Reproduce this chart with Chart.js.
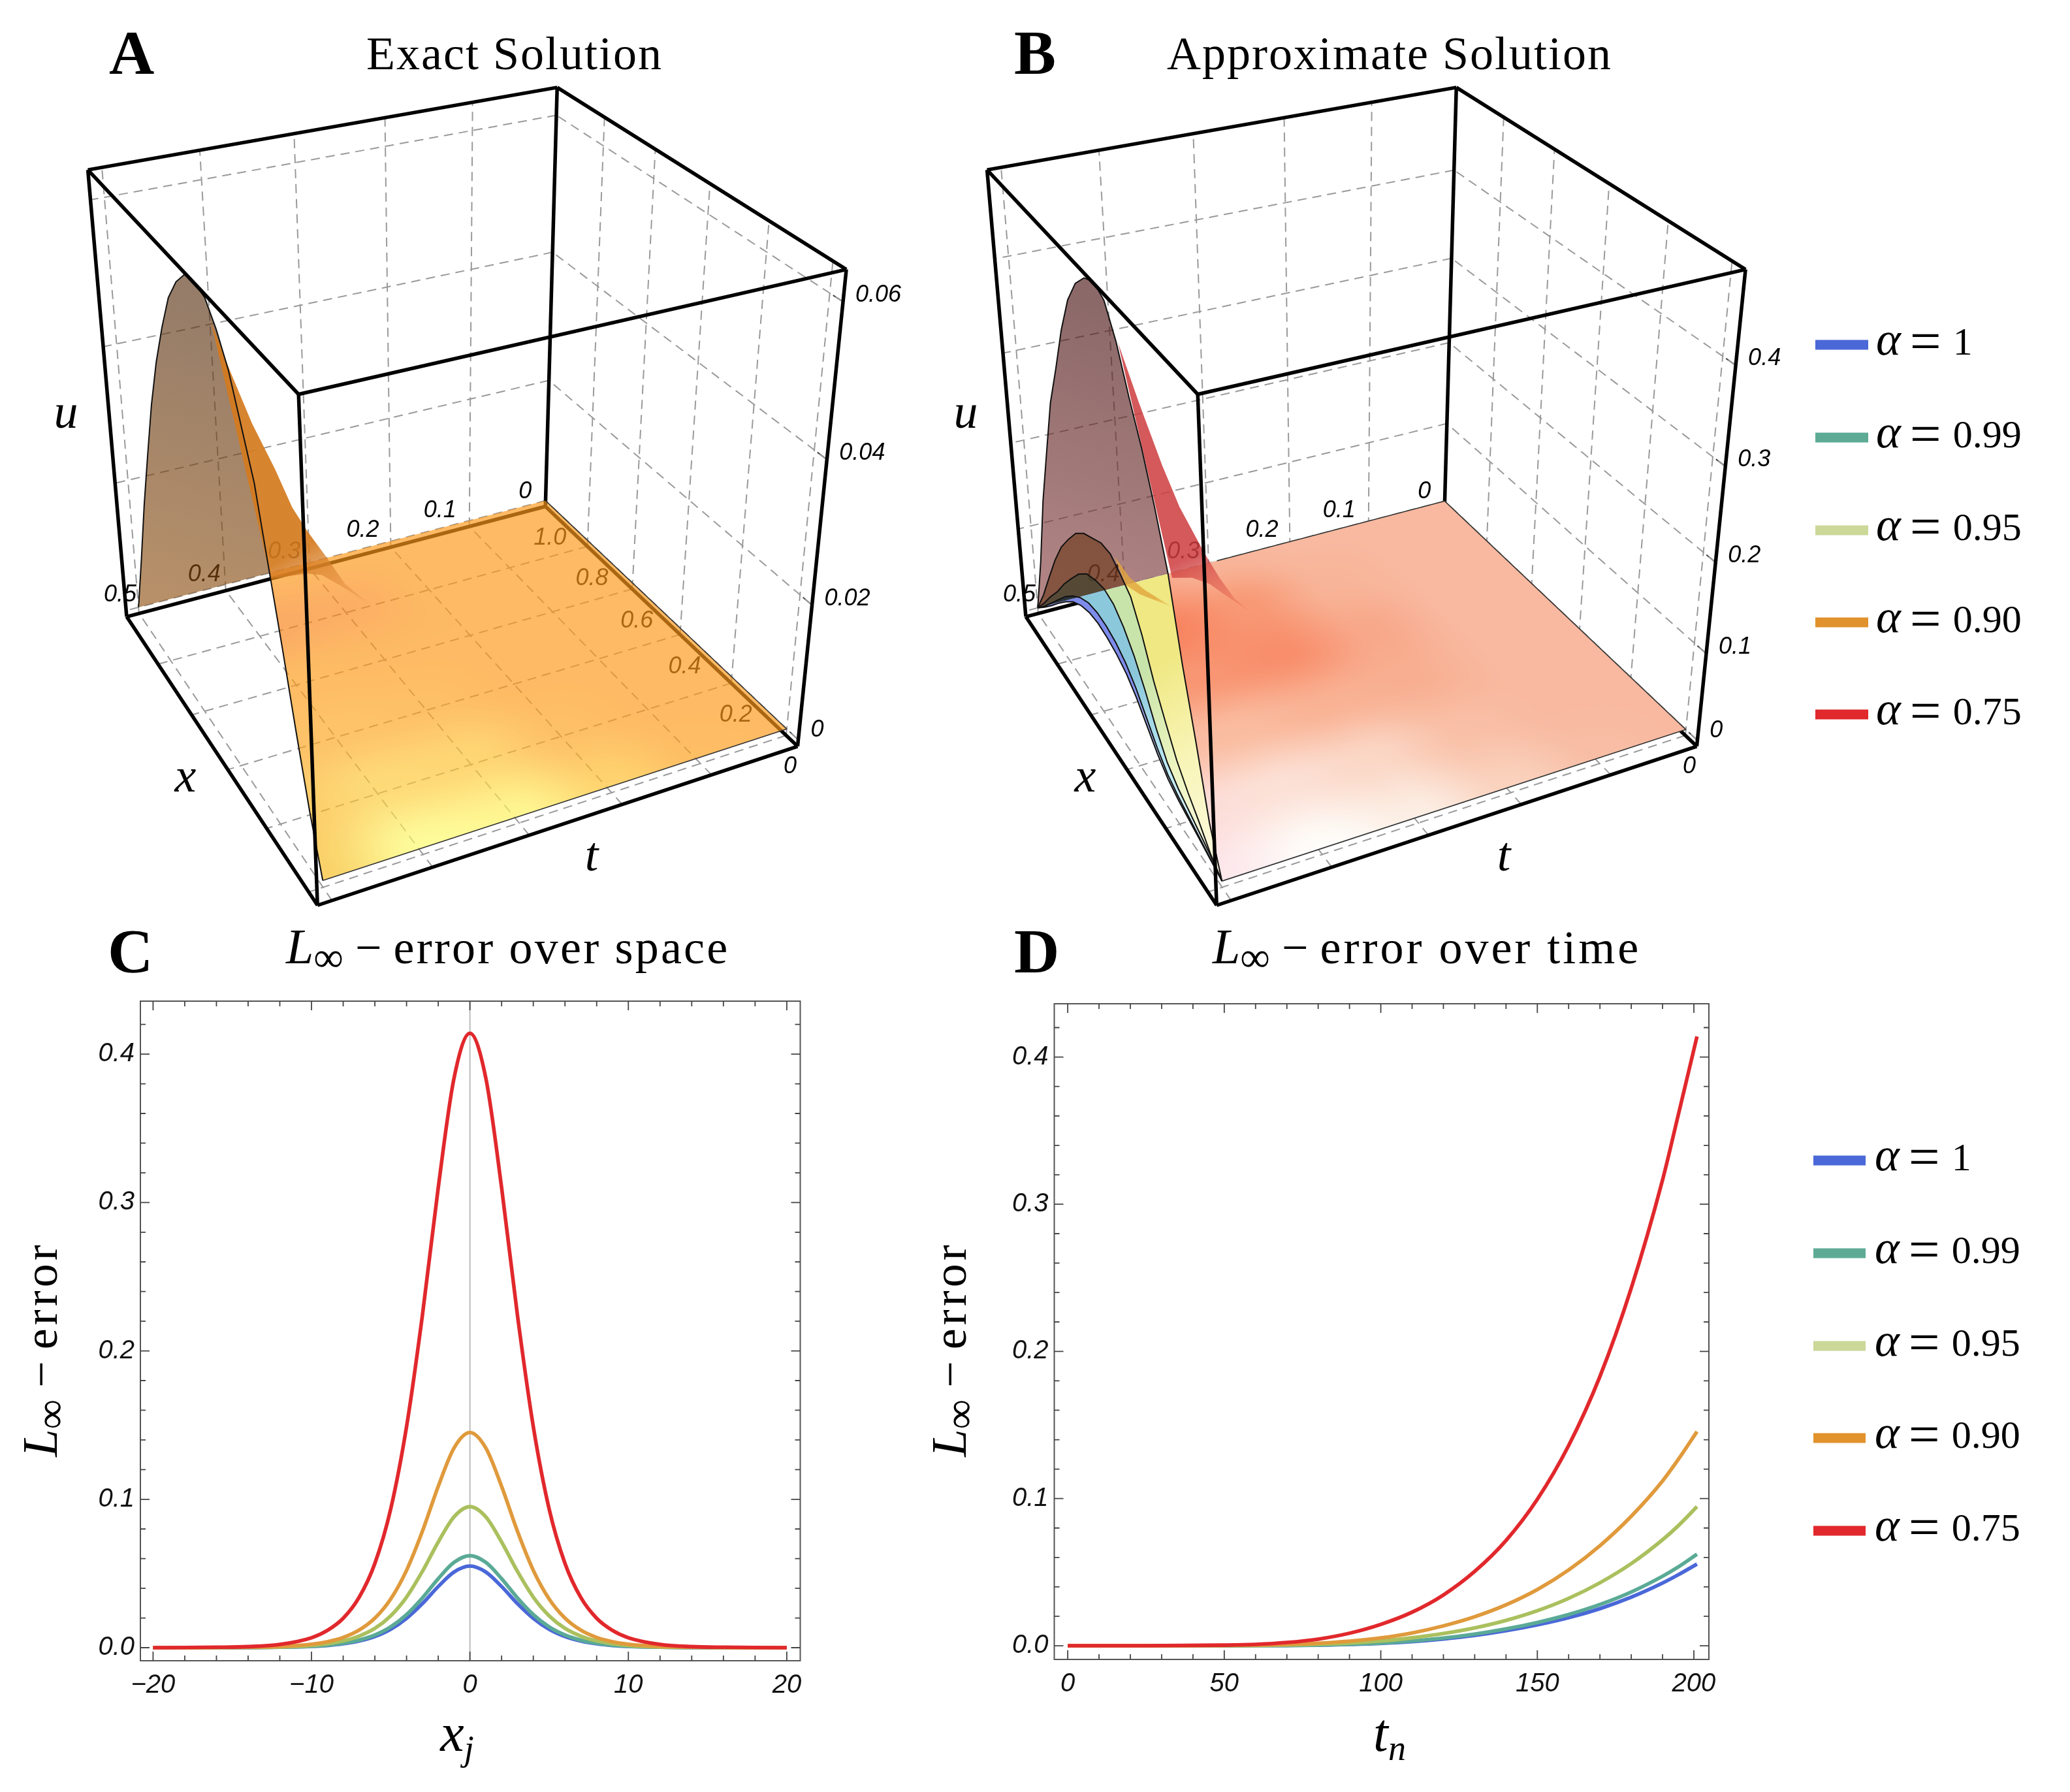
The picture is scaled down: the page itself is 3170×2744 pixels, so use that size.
<!doctype html><html><head><meta charset="utf-8">
<style>html,body{margin:0;background:#fff;width:3170px;height:2744px;overflow:hidden}canvas{position:absolute}</style>
<script src="https://cdn.jsdelivr.net/npm/chart.js@4"></script></head><body>
<canvas id="ca" width="1400" height="1420" style="left:0;top:0"></canvas>
<canvas id="cb" width="1793" height="1420" style="left:1377px;top:0"></canvas>
<canvas id="cc" width="1360" height="1344" style="left:0;top:1400px"></canvas>
<canvas id="cd" width="1770" height="1344" style="left:1400px;top:1400px"></canvas>
<script>
const SERIF="'Liberation Serif'",SANS="'Liberation Sans'";
// ---- panel C: error over space
const spaceX=[-20,-18,-16,-14,-12,-10,-9,-8,-7,-6,-5,-4,-3,-2,-1,0,1,2,3,4,5,6,7,8,9,10,12,14,16,18,20];
const spaceBlue=[0,0,0,.0001,.0003,.0009,.0015,.0026,.0045,.0075,.0124,.0198,.0297,.0412,.0510,.055,.0510,.0412,.0297,.0198,.0124,.0075,.0045,.0026,.0015,.0009,.0003,.0001,0,0,0];
const spaceTeal=[0,0,0,.0001,.0003,.0010,.0017,.0030,.0051,.0085,.0140,.0223,.0335,.0465,.0575,.062,.0575,.0465,.0335,.0223,.0140,.0085,.0051,.0030,.0017,.0010,.0003,.0001,0,0,0];
const spaceGreen=[0,0,.0001,.0002,.0005,.0015,.0027,.0046,.0078,.0130,.0215,.0341,.0514,.0712,.0882,.095,.0882,.0712,.0514,.0341,.0215,.0130,.0078,.0046,.0027,.0015,.0005,.0002,.0001,0,0];
const spaceOrange=[0,0,.0001,.0003,.0008,.0023,.0040,.0069,.0118,.0199,.0328,.0521,.0784,.1087,.1346,.145,.1346,.1087,.0784,.0521,.0328,.0199,.0118,.0069,.0040,.0023,.0008,.0003,.0001,0,0];
const spaceRed=[0,.0001,.0003,.0007,.0022,.0067,.0116,.0198,.0338,.0568,.0935,.149,.224,.310,.384,.414,.384,.310,.224,.149,.0935,.0568,.0338,.0198,.0116,.0067,.0022,.0007,.0003,.0001,0];
// ---- panel D: error over time
const timeN=[0,25,50,60,70,80,90,100,110,120,130,140,150,160,170,180,190,195,201];
const timeBlue=[0,0,0,.0001,.0002,.0004,.0009,.0016,.0028,.0046,.007,.0102,.0142,.0191,.0252,.033,.0426,.0482,.0555];
const timeTeal=[0,0,0,.0001,.0002,.0005,.001,.0018,.0032,.0052,.0079,.0114,.0158,.0212,.028,.0365,.0472,.0535,.0622];
const timeGreen=[0,0,.0001,.0002,.0005,.001,.0018,.0032,.0054,.0083,.0121,.0172,.0238,.0322,.0428,.0558,.072,.0815,.0945];
const timeOrange=[0,0,.0002,.0004,.0009,.0017,.0031,.0053,.0087,.0135,.0197,.0278,.0382,.0515,.068,.088,.112,.1265,.1455];
const timeRed=[0,0,.0004,.0009,.0022,.0045,.0085,.0145,.0228,.0345,.0505,.0715,.0995,.136,.183,.243,.3165,.3605,.414];
// ---- panels A, B: surfaces
const tTicks=[0,.1,.2,.3,.4,.5], xTicks=[0,.2,.4,.6,.8,1];
const uTicksA=[0,.02,.04,.06], uTicksB=[0,.1,.2,.3,.4];
const humpX=[0,.05,.1,.15,.2,.25,.3,.35,.4,.45,.5,.55,.6,.65,.7,.75,.8,.85,.9,.95,1];
const humpExact=[0,.0075,.0165,.026,.035,.044,.0495,.055,.0585,.061,.0615,.0612,.059,.0557,.0505,.0445,.0372,.0285,.0195,.0095,0];
const humpRed=[0,.047,.118,.184,.262,.314,.359,.396,.437,.465,.4726,.466,.451,.425,.385,.335,.288,.222,.155,.071,0];
const humpOrange=[0,.012,.030,.046,.065,.092,.120,.155,.182,.192,.2006,.199,.191,.183,.170,.150,.128,.099,.065,.030,0];
const humpGreen=[0,.010,.018,.026,.034,.046,.068,.095,.118,.135,.146,.149,.145,.138,.124,.105,.085,.062,.042,.020,0];
const humpTeal=[0,.006,.012,.018,.024,.032,.046,.064,.082,.095,.103,.107,.108,.105,.097,.085,.070,.052,.034,.016,0];
const humpBlue=[0,.005,.010,.015,.020,.027,.039,.055,.071,.083,.090,.094,.096,.094,.088,.078,.064,.048,.031,.015,0];
const ridgeATop=[[.483,.522,.0557],[.464,.546,.0485],[.438,.579,.0394],[.410,.616,.0311],[.388,.645,.0239],[.368,.670,.0189],[.339,.707,.0124],[.313,.741,.0063],[.276,.788,0]];
const ridgeALow=[[.351,.977,0],[.311,.960,0],[.298,.940,0],[.286,.866,0],[.276,.788,0]];
const ridgeBTop=[[.474,.537,.4016],[.451,.569,.3290],[.424,.606,.2486],[.402,.637,.1899],[.368,.685,.1161],[.346,.715,.0724],[.323,.747,.0319],[.299,.781,0]];
const ridgeBLow=[[.348,.980,0],[.328,.960,0],[.316,.919,0],[.310,.866,0],[.299,.781,0]];
const ridgeOTop=[[.492,.522,.1894],[.464,.602,.1368],[.433,.691,.0892],[.370,.872,0]];
const ridgeOLow=[[.399,1,0],[.392,.950,0],[.370,.872,0]];
const BOX={BK:[835,774],R:[1221,1144],L:[194,945],F:[487,1386],TBK:[854,134],TR:[1296,413],TL:[134,261],TF:[457,602]};
function makeCam(c){const pts=[[0,1,0,c.BK],[0,0,0,c.R],[1,1,0,c.L],[1,0,0,c.F],[0,1,1,c.TBK],[0,0,1,c.TR],[1,1,1,c.TL],[1,0,1,c.TF]];
 const A=Array.from({length:11},()=>Array(12).fill(0));
 const add=(r,y)=>{for(let i=0;i<11;i++){for(let j=0;j<11;j++)A[i][j]+=r[i]*r[j];A[i][11]+=r[i]*y;}};
 pts.forEach(([a,b,g,q])=>{const u=q[0]/1000,v=q[1]/1000;add([a,b,g,1,0,0,0,0,-u*a,-u*b,-u*g],u);add([0,0,0,0,a,b,g,1,-v*a,-v*b,-v*g],v);});
 for(let i=0;i<11;i++){let m=i;for(let k=i;k<11;k++)if(Math.abs(A[k][i])>Math.abs(A[m][i]))m=k;[A[i],A[m]]=[A[m],A[i]];
  for(let k=0;k<11;k++)if(k!==i){const f=A[k][i]/A[i][i];for(let j=i;j<12;j++)A[k][j]-=f*A[i][j];}}
 return A.map((r,i)=>r[11]/r[i]);}
const CAM=makeCam(BOX);
function proj3(a,b,g){const p=CAM,w=p[8]*a+p[9]*b+p[10]*g+1;return{x:(p[0]*a+p[1]*b+p[2]*g+p[3])/w*1000,y:(p[4]*a+p[5]*b+p[6]*g+p[7])/w*1000};}
function mkPanel(r){const P={r};P.a=t=>(t-r.tLo)/(r.tHi-r.tLo);P.b=x=>(x-r.xLo)/(r.xHi-r.xLo);P.c=u=>(u-r.uLo)/(r.uHi-r.uLo);P.p=(t,x,u)=>proj3(P.a(t),P.b(x),P.c(u));return P;}
const PA=mkPanel({tLo:0,tHi:.514,xLo:-.04,xHi:1,uLo:-.001,uHi:.0639});
const PB=mkPanel({tLo:0,tHi:.514,xLo:-.04,xHi:1,uLo:-.007,uHi:.49});
const floorColA=[[[254,186,100],[254,186,100],[254,186,100],[254,186,100],[254,186,100],[254,186,100]],
[[254,190,100],[254,186,100],[254,186,100],[254,186,100],[254,186,100],[254,186,100]],
[[254,212,112],[254,192,103],[254,186,100],[254,186,100],[254,186,100],[254,186,100]],
[[254,246,145],[254,214,116],[254,192,103],[254,186,100],[252,175,100],[254,186,100]],
[[254,252,155],[254,218,120],[254,195,105],[254,188,100],[250,170,100],[254,185,100]],
[[250,210,105],[252,203,104],[254,192,103],[254,188,100],[252,180,100],[254,180,100]]];
const floorColB=[[[248,185,160],[248,185,160],[248,185,160],[248,185,160],[248,185,160],[248,185,160]],
[[248,190,165],[248,185,160],[248,185,160],[248,185,160],[248,185,160],[248,185,160]],
[[250,210,190],[249,192,167],[248,175,145],[248,168,138],[248,180,152],[248,185,160]],
[[252,238,228],[251,215,198],[249,178,148],[248,142,107],[248,152,116],[248,180,152]],
[[254,253,250],[252,225,215],[250,188,160],[248,150,115],[248,130,95],[248,165,135]],
[[253,232,236],[252,220,218],[250,192,172],[248,165,135],[248,150,115],[245,165,135]]];
function colorAt(tb,t,x){const u=Math.min(4.999,Math.max(0,t/.1)),v=Math.min(4.999,Math.max(0,x/.2));const i=u|0,j=v|0;let fu=u-i,fv=v-j;fu=fu*fu*(3-2*fu);fv=fv*fv*(3-2*fv);
 const o=[0,0,0];for(let k=0;k<3;k++)o[k]=(tb[i][j][k]*(1-fu)+tb[i+1][j][k]*fu)*(1-fv)+(tb[i][j+1][k]*(1-fu)+tb[i+1][j+1][k]*fu)*fv;return o;}
function floorImage(P,tb,alpha){const r=P.r,g0=P.c(0),p=CAM;
 const H=[[p[0],p[1],p[2]*g0+p[3]],[p[4],p[5],p[6]*g0+p[7]],[p[8],p[9],p[10]*g0+1]];
 const [a,b,c]=H[0],[d,e,ff]=H[1],[g,h,k]=H[2];
 const I=[[e*k-ff*h,c*h-b*k,b*ff-c*e],[ff*g-d*k,a*k-c*g,c*d-a*ff],[d*h-e*g,b*g-a*h,a*e-b*d]];
 const W=1400,Ht=1420,cv=document.createElement('canvas');cv.width=W;cv.height=Ht;const cx=cv.getContext('2d'),im=cx.createImageData(W,Ht);
 for(let y=700;y<1420;y++)for(let xx=150;xx<1300;xx++){const u=xx/1000,v=y/1000;const A=I[0][0]*u+I[0][1]*v+I[0][2],B=I[1][0]*u+I[1][1]*v+I[1][2],C=I[2][0]*u+I[2][1]*v+I[2][2];
  const t=A/C*(r.tHi-r.tLo)+r.tLo,xv=B/C*(r.xHi-r.xLo)+r.xLo;const col=colorAt(tb,t,xv);const i=(y*W+xx)*4;
  for(let q=0;q<3;q++)im.data[i+q]=Math.max(0,Math.min(255,(col[q]-255*(1-alpha))/alpha));im.data[i+3]=255;}
 cx.putImageData(im,0,0);return cv;}
function poly(ctx,pts){ctx.beginPath();pts.forEach((q,i)=>i?ctx.lineTo(q[0],q[1]):ctx.moveTo(q[0],q[1]));ctx.closePath();}
function seg(ctx,x,y,parts,align){let w=0;parts.forEach(p=>{ctx.font=p[1];ctx.letterSpacing=(p[3]||0)+'px';w+=ctx.measureText(p[0]).width;});let s=align==='center'?x-w/2:x;ctx.textAlign='left';ctx.textBaseline='alphabetic';
 parts.forEach(p=>{ctx.font=p[1];ctx.letterSpacing=(p[3]||0)+'px';ctx.fillText(p[0],s,y+(p[2]||0));s+=ctx.measureText(p[0]).width;});ctx.letterSpacing='0px';}
const lineCols=['#4a68d8','#5aaa96','#aac05e','#e09a3c','#e1282c'];
const legCols=['#4a68d8','#5dab95','#cbd898','#e1922c','#e1282c'];
const legVals=['1','0.99','0.95','0.90','0.75'];
function legend(ctx,x0,x1,xt,ys){ys.forEach((y,i)=>{ctx.fillStyle=legCols[i];ctx.fillRect(x0,y-7.5,x1-x0,15);ctx.fillStyle='#000';
 seg(ctx,xt,y+15,[['α','italic 72px '+SERIF],[' ','56px '+SERIF],['=','85px '+SERIF,8],[' ','72px '+SERIF],[legVals[i],'60px '+SERIF]]);});}
const tLabelDx=[-6,-20,-18,-14,-8,-4],tLabelDy=[8,6,4,4,6,2];

function build3D(id,P,uT,isB){
 const r=P.r,T=r.tHi,X1=r.xHi,X0=r.xLo,U0=r.uLo,U1=r.uHi,ds=[];
 const seg3=(A,B,o)=>ds.push(Object.assign({data:[P.p(...A),P.p(...B)],showLine:true,pointRadius:0,fill:false},o));
 const gr={borderColor:'#9a9a9a',borderWidth:2,borderDash:[14,9],order:10};
 tTicks.forEach(t=>{seg3([t,X1,U0],[t,X1,U1],gr);seg3([t,X0,U0],[t,X1,U0],gr);});
 xTicks.forEach(x=>{seg3([0,x,U0],[0,x,U1],gr);seg3([0,x,U0],[T,x,U0],gr);});
 uT.forEach(u=>{seg3([0,X1,u],[T,X1,u],gr);seg3([0,X0,u],[0,X1,u],gr);});
 uT.forEach(u=>seg3([0,X0,u],[0,X0+.03,u],{borderColor:'#444',borderWidth:2,order:10}));
 const ed=(o)=>({borderColor:'#000',borderWidth:5.5,order:o});
 const c=[[0,X1,U0],[0,X0,U0],[T,X1,U0],[T,X0,U0],[0,X1,U1],[0,X0,U1],[T,X1,U1],[T,X0,U1]];
 [[0,1],[0,2],[0,4]].forEach(e=>seg3(c[e[0]],c[e[1]],ed(9)));
 [[1,3],[2,3],[1,5],[2,6],[3,7],[4,5],[4,6],[5,7],[6,7]].forEach(e=>seg3(c[e[0]],c[e[1]],ed(1)));
 const layers=isB?[humpRed,humpOrange,humpGreen,humpTeal,humpBlue]:[humpExact];
 const outline=h=>humpX.map((x,i)=>P.p(.5,x,h[i]));
 layers.forEach(h=>ds.push({data:outline(h),showLine:true,pointRadius:0,borderColor:'#111',borderWidth:2,order:2}));
 const rim=[[[0,0,0],[0,1,0]],[[0,0,0],[.5,0,0]]];if(isB)rim.push([[0,1,0],[.29,1,0]]);
 rim.forEach(e=>seg3(e[0],e[1],{borderColor:'#333',borderWidth:1.6,order:2}));
 const plug={id:'surf',beforeDraw(ch){ch.$d=false;},beforeDatasetDraw(ch,args){if(args.meta.order>2||ch.$d)return;ch.$d=true;const ctx=ch.ctx;
   const px=q=>[ch.scales.x.getPixelForValue(q.x),ch.scales.y.getPixelForValue(q.y)],PP=(t,x,u)=>px(P.p(t,x,u));
   ctx.save();ctx.fillStyle='#000';const lf='italic 36px '+SANS;ctx.font=lf;ctx.textAlign='center';ctx.textBaseline='middle';
   tTicks.forEach((t,i)=>{const q=PP(t,X1,U0);ctx.fillText(t===0?'0':String(t),q[0]-25+tLabelDx[i],q[1]-30+tLabelDy[i]);});
   xTicks.forEach(x=>{const q=PP(0,x,U0);ctx.fillText(x===0?'0':x.toFixed(1),q[0]+(x===0?6:7),q[1]+(x===0?48:49));});
   ctx.textAlign='left';uT.forEach(u=>{const q=PP(0,X0,u);ctx.fillText(u===0?'0':String(u),q[0]+19,q[1]-(u===0?15:10));});
   const bk=PP(0,1,0),lf0=PP(.5,1,0),rr=PP(0,0,0),ff=PP(.5,0,0);
   const face=[lf0,bk,PP(0,1,U1),PP(.5,1,U1)];
   const outPts=h=>humpX.map((x,i)=>PP(.5,x,h[i]));
   const side=q=>((bk[0]-lf0[0])*(q[1]-lf0[1])-(bk[1]-lf0[1])*(q[0]-lf0[0]));
   const grad=(o,stops)=>{const g=ctx.createLinearGradient(o[0][0],o[0][1],o[1][0],o[1][1]);stops.forEach(s=>g.addColorStop(s[0],s[1]));return g;};
   const humpCols=isB?[['#884040','#491111'],['#6c3919','#6c3919'],['#394330','#394330'],['#10263b','#10263b'],['#101350','#101350']]:[['#905111','#593111']];
   layers.forEach((h,i)=>{ctx.save();poly(ctx,face);ctx.clip();poly(ctx,outPts(h));ctx.globalAlpha=.63;const top=h.indexOf(Math.max(...h));ctx.fillStyle=grad([lf0,PP(.5,humpX[Math.max(0,top-3)],h[top])],[[0,humpCols[i][0]],[1,humpCols[i][1]]]);ctx.fill();ctx.restore();});
   const floorClip=h=>{const o=outPts(h),res=[];for(let i=0;i<o.length;i++){if(side(o[i])>0){res.push(o[i]);}else{const a=o[i-1],b=o[i],sa=side(a),sb=side(b),k=sa/(sa-sb);res.push([a[0]+(b[0]-a[0])*k,a[1]+(b[1]-a[1])*k]);break;}}return[bk,rr,...res];};
   if(isB){const zs=[[humpBlue,['#7d8ceb','#c8d7f5','#eef2fb']],[humpTeal,['#8cc8dc','#bfebf5','#f0fafb']],[humpGreen,['#c8e4aa','#eef5c0','#f8fae6']],[humpOrange,['#f0e882','#f8f5b8','#fcfae6']]];
    const gl=[PP(.5,.62,0),ff];
    zs.forEach(z=>{poly(ctx,floorClip(z[0]));ctx.fillStyle=grad(gl,[[0,z[1][0]],[.45,z[1][1]],[1,z[1][2]]]);ctx.fill();});}
   ctx.save();poly(ctx,floorClip(layers[0]));ctx.clip();ctx.globalAlpha=isB?1:.67;ctx.drawImage(floorImage(P,isB?floorColB:floorColA,isB?1:.67),0,0);ctx.restore();
   const sheet=(top,low,c1,c2)=>{const tp=top.map(r=>px(P.p(r[0],r[1],r[2]))),lw=low.map(r=>px(P.p(r[0],r[1],r[2])));poly(ctx,[...tp,...lw.reverse()]);ctx.fillStyle=grad([tp[0],tp[tp.length-1]],[[0,c1],[.75,c1],[1,c2]]);ctx.fill();};
   if(isB){sheet(ridgeOTop,ridgeOLow,'rgba(225,165,60,.8)','rgba(225,165,60,.15)');sheet(ridgeBTop,ridgeBLow,'rgba(205,60,62,.85)','rgba(225,90,70,.2)');}
   else sheet(ridgeATop,ridgeALow,'rgba(212,122,30,.92)','rgba(225,140,70,.25)');
   ctx.restore();
 }};
 const txt={id:'txt',afterDraw(ch){const ctx=ch.ctx;ctx.save();ctx.fillStyle='#000';
   const m='italic 74px '+SERIF;
   if(!isB){seg(ctx,167,113,[['A','bold 96px '+SERIF]]);seg(ctx,561,106,[['Exact Solution','72px '+SERIF,0,2]]);seg(ctx,101,655,[['u',m]],'center');seg(ctx,284,1212,[['x',m]],'center');seg(ctx,906,1333,[['t',m]],'center');}
   else{seg(ctx,176,113,[['B','bold 96px '+SERIF]]);seg(ctx,410,106,[['Approximate Solution','72px '+SERIF,0,2]]);seg(ctx,102,655,[['u',m]],'center');seg(ctx,285,1212,[['x',m]],'center');seg(ctx,926,1333,[['t',m]],'center');
     legend(ctx,2780-1377,2861-1377,2873-1377,[528,670,812,953,1094]);}
   ctx.restore();}};
 const cv=document.getElementById(id);
 new Chart(cv,{type:'scatter',data:{datasets:ds},plugins:[plug,txt],options:{responsive:false,animation:false,devicePixelRatio:1,layout:{padding:0},
  plugins:{legend:{display:false},tooltip:{enabled:false}},scales:{x:{type:'linear',display:false,min:0,max:cv.width},y:{type:'linear',display:false,min:0,max:cv.height,reverse:true}}}});
}
build3D('ca',PA,uTicksA,false);
build3D('cb',PB,uTicksB,true);

function build2D(id,xs,series,o){
 const mk=(ys,i)=>({data:xs.map((x,k)=>({x,y:ys[k]})),showLine:true,pointRadius:0,borderColor:lineCols[i],borderWidth:5.6,cubicInterpolationMode:'monotone',order:5-i,borderJoinStyle:'round'});
 const ds=series.map(mk);
 if(o.zeroLine)ds.push({data:[{x:0,y:o.yMin},{x:0,y:o.yMax}],showLine:true,pointRadius:0,borderColor:'#bdbdbd',borderWidth:2,order:9});
 const frame={id:'frame',afterDatasetsDraw(ch){const ctx=ch.ctx,a=ch.chartArea,sx=ch.scales.x,sy=ch.scales.y;ctx.save();ctx.strokeStyle='#555';ctx.lineWidth=2;ctx.strokeRect(a.left,a.top,a.right-a.left,a.bottom-a.top);
   ctx.lineWidth=1.8;ctx.strokeStyle='#444';ctx.beginPath();
   for(let k=Math.ceil(o.xMin/o.xMinor);k*o.xMinor<=o.xMax;k++){const v=k*o.xMinor,p=sx.getPixelForValue(v),L=(k%o.xEvery===0)?14:8;ctx.moveTo(p,a.bottom);ctx.lineTo(p,a.bottom-L);ctx.moveTo(p,a.top);ctx.lineTo(p,a.top+L);}
   for(let k=0;k*.02<=o.yMax;k++){const p=sy.getPixelForValue(k*.02),L=(k%5===0)?14:8;ctx.moveTo(a.left,p);ctx.lineTo(a.left+L,p);ctx.moveTo(a.right,p);ctx.lineTo(a.right-L,p);}
   ctx.stroke();ctx.restore();}};
 const txt={id:'txt2',afterDraw(ch){const ctx=ch.ctx;ctx.save();ctx.fillStyle='#000';
   const I='italic 76px '+SERIF,I2='italic 82px '+SERIF,R='72px '+SERIF,S='64px '+SERIF,SI='italic 54px '+SERIF;
   seg(ctx,o.letterX,89,[[o.letter,'bold 96px '+SERIF]]);
   seg(ctx,o.titleX,75,[['L',I],['∞',S,12],[' − ',R],[o.title,R,0,o.titleLS]]);
   ctx.save();ctx.translate(o.yBase,666);ctx.rotate(-Math.PI/2);seg(ctx,0,0,[['L',I],['∞',S,12],[' − ',R],['error',R,0,5]],'center');ctx.restore();
   seg(ctx,o.xLabelX,1281,[[o.xl[0],I2],[o.xl[1],SI,14]],'center');
   if(o.legend)legend(ctx,2777-1400,2857-1400,2871-1400,[377,519,661,802,944]);
   ctx.restore();}};
 new Chart(document.getElementById(id),{type:'scatter',data:{datasets:ds},plugins:[frame,txt],options:{responsive:false,animation:false,devicePixelRatio:1,
  layout:{padding:{top:o.top,right:o.right,left:0,bottom:0}},plugins:{legend:{display:false},tooltip:{enabled:false}},
  scales:{x:{type:'linear',min:o.xMin,max:o.xMax,border:{display:false},grid:{display:false,drawTicks:false},afterFit(s){s.height=1344-o.bottom;},
     ticks:{stepSize:o.xStep,includeBounds:false,autoSkip:false,maxRotation:0,padding:14,color:'#111',font:{family:SANS,size:40,style:'italic'},callback:v=>String(v).replace('-','−')}},
   y:{type:'linear',min:o.yMin,max:o.yMax,border:{display:false},grid:{display:false,drawTicks:false},afterFit(s){s.width=o.left;},
     ticks:{stepSize:.1,includeBounds:false,autoSkip:false,padding:9,color:'#111',font:{family:SANS,size:40,style:'italic'},callback:v=>v.toFixed(1)}}}}});
}
build2D('cc',spaceX,[spaceBlue,spaceTeal,spaceGreen,spaceOrange,spaceRed],{xMin:-20.8,xMax:20.85,yMin:-.0088,yMax:.4357,xStep:10,xMinor:2,xEvery:5,zeroLine:true,left:215,right:1360-1225.5,top:133,bottom:1143,
 letter:'C',letterX:165,title:'error over space',titleX:438,titleLS:3.2,yBase:87,xLabelX:700,xl:['x','j']});
build2D('cd',timeN,[timeBlue,timeTeal,timeGreen,timeOrange,timeRed],{xMin:-4.3,xMax:204.8,yMin:-.0093,yMax:.4362,xStep:50,xMinor:10,xEvery:5,left:214.5,right:1770-1217,top:137,bottom:1141,
 letter:'D',letterX:153,title:'error over time',titleX:457,titleLS:4,yBase:79,xLabelX:728,xl:['t','n'],legend:true});
</script></body></html>
